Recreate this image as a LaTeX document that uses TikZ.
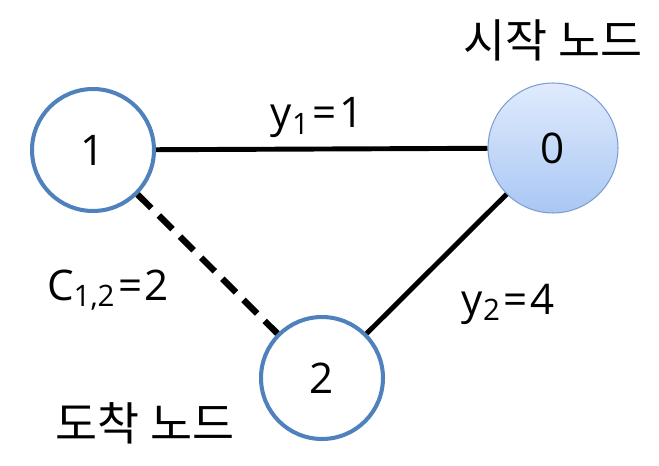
\documentclass[tikz,border=0pt]{standalone}
\usepackage{fontspec}
\setmainfont{Open Sans}
\newfontfamily\krfont{Noto Sans CJK KR}
\usepackage{xcolor}
\definecolor{ringblue}{HTML}{4F81BD}
\definecolor{startedge}{HTML}{7C9FD2}
\definecolor{starttop}{HTML}{E0EBFC}
\definecolor{startbot}{HTML}{A9C7F4}
\usepackage{tikz}
\usetikzlibrary{positioning, calc}

\newcommand{\eqsp}{\kern1.5pt=\kern1.5pt}

\begin{document}
\begin{tikzpicture}[
    x=0.02cm, y=-0.02cm,
    font=\fontsize{24}{27}\selectfont,
    vertex/.style={circle, draw=ringblue, line width=2.3pt, minimum size=2.44cm, inner sep=0pt, fill=white},
    startvertex/.style={circle, draw=startedge, line width=0.6pt, minimum size=2.6cm, inner sep=0pt, top color=starttop, bottom color=startbot},
    link/.style={line width=2.8pt, draw=black},
    tag/.style={inner sep=0pt, anchor=center}
]
\useasboundingbox (0,0) rectangle (659,466);

% ── Nodes ──
\node[vertex] (n1) at (93,150) {1};
\node[startvertex] (n0) at (553,148) {0};
\node[vertex] (n2) at (322,378) {2};

% ── Edges ──
\draw[link] (n1) -- (n0);
\draw[link] (n0) -- (n2);
\draw[link, line width=3.6pt, dash pattern=on 11pt off 6pt] (n1) -- (n2);

% ── Labels ──
\node[tag] (lbl10) at (317,118) {y\textsubscript{1}\eqsp1};
\node[tag] (lbl12) at (108,290) {C\textsubscript{1,2}\eqsp2};
\node[tag] (lbl02) at (508,304) {y\textsubscript{2}\eqsp4};
\node[tag, font=\krfont\fontsize{26}{30}\selectfont] (start) at (553,40) {시작 노드};
\node[tag, font=\krfont\fontsize{26}{30}\selectfont] (goal) at (145,423) {도착 노드};

\end{tikzpicture}
\end{document}
